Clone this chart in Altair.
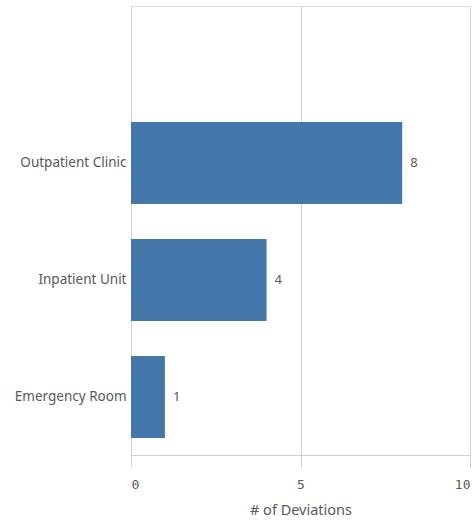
import altair as alt
import pandas as pd

categories = ["Outpatient Clinic", "Inpatient Unit", "Emergency Room"]
deviations = [8, 4, 1]

df = pd.DataFrame({"category": categories, "deviations": deviations})

GRAY = "#d0d0d0"
TXT = "#595959"

base = alt.Chart(df).encode(
    y=alt.Y(
        "category:N",
        sort=categories,
        scale=alt.Scale(paddingInner=0.3, paddingOuter=0.569, align=0.872),
        axis=alt.Axis(
            title=None,
            ticks=False,
            domain=True,
            domainColor=GRAY,
            labelColor=TXT,
            labelFont="Noto Sans",
            labelFontSize=13.5,
            labelPadding=5,
            grid=False,
        ),
    ),
    x=alt.X(
        "deviations:Q",
        scale=alt.Scale(domain=[0, 10], nice=False),
        axis=alt.Axis(
            title="# of Deviations",
            titleColor=TXT,
            titleFont="Noto Sans",
            titleFontSize=14.5,
            titleFontWeight="normal",
            titlePadding=12,
            values=[0, 5, 10],
            labelFont="DejaVu Sans Mono",
            labelFontSize=13,
            labelColor=TXT,
            labelPadding=11,
            tickColor=GRAY,
            tickSize=12,
            domainColor=GRAY,
            grid=True,
            gridColor=GRAY,
            labelFlush=True,
        ),
    ),
)

bars = base.mark_bar(color="#4477aa")
labels = base.mark_text(align="left", dx=8, color=TXT, font="Noto Sans", fontSize=13).encode(
    text="deviations:Q"
)

chart = (
    (bars + labels)
    .properties(
        width=339,
        height=449,
        autosize=alt.AutoSizeParams(type="none"),
        padding={"left": 131, "top": 6, "right": 2, "bottom": 69},
    )
    .configure_view(stroke=None)
    .configure(background="white")
)

chart.save("out.html", embed_options={"renderer": "svg", "actions": False})
